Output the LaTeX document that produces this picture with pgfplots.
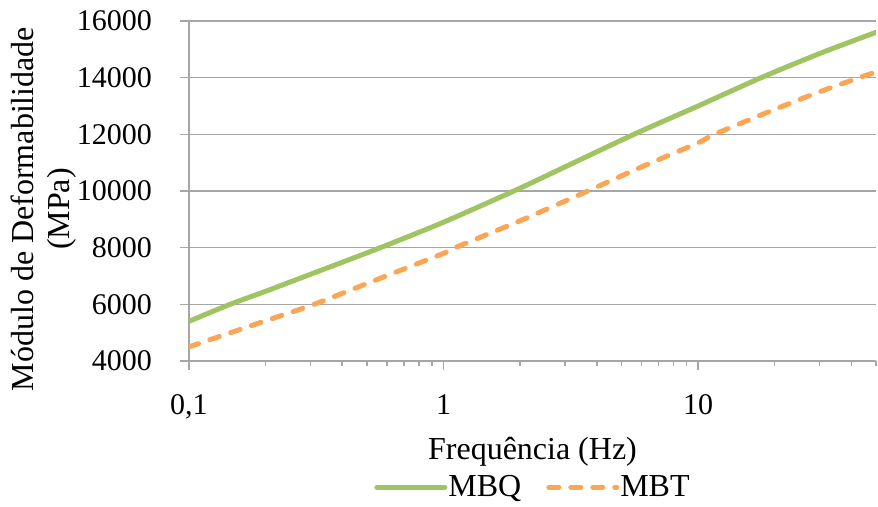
\documentclass[border=0pt]{standalone}
\usepackage{pgfplots}
\pgfplotsset{compat=1.18}
\usepackage{fontspec}
\setmainfont{Liberation Serif}

\definecolor{mbq}{RGB}{160,196,98}
\definecolor{mbt}{RGB}{250,166,84}
\definecolor{gridgray}{RGB}{166,166,166}

\newcommand{\tickfont}{\fontsize{30bp}{36bp}\selectfont}
\newcommand{\labelfont}{\fontsize{32bp}{36bp}\selectfont}

\begin{document}
\begin{tikzpicture}
\useasboundingbox (-189bp,-146bp) rectangle (689bp,361bp);
\begin{axis}[
  at={(0,0)}, anchor=south west,
  scale only axis,
  width=687bp, height=340bp,
  xmode=log,
  xmin=0.1, xmax=50,
  ymin=4000, ymax=16000,
  axis x line*=bottom,
  axis y line*=left,
  axis line style={gridgray, line width=1.5bp},
  xtick={0.1,1,10},
  xticklabels={{0,1},1,10},
  minor xtick={0.2,0.3,0.4,0.5,0.6,0.7,0.8,0.9,2,3,4,5,6,7,8,9,20,30,40,50},
  ytick={4000,6000,8000,10000,12000,14000,16000},
  yticklabels={4000,6000,8000,10000,12000,14000,16000},
  scaled y ticks=false,
  minor ytick={},
  tick align=outside,
  major tick length=9bp,
  minor tick length=5bp,
  tick style={gridgray, line width=1.5bp},
  ymajorgrids,
  major grid style={gridgray, line width=1.5bp},
  /pgf/number format/assume math mode=true,
  /pgf/number format/1000 sep={},
  tick label style={font=\tickfont, text=black},
  yticklabel style={inner sep=0pt, xshift=-28bp},
  xticklabel style={inner sep=0pt, anchor=base, yshift=-44bp},
  xlabel={Frequência (Hz)},
  xlabel style={font=\labelfont, at={(axis description cs:0.5,-0.291)}, anchor=base, inner sep=0pt},
  ylabel={Módulo de Deformabilidade\\(MPa)},
  ylabel style={font=\labelfont, align=center, at={(axis description cs:-0.211,0.447)}, anchor=center, inner sep=0pt},
  legend style={draw=none, fill=none, font=\labelfont,
    at={(axis description cs:0.5,-0.371)}, anchor=center,
    legend columns=2,
    /tikz/every even column/.append style={column sep=24bp},
    nodes={inner sep=1bp}},
  legend cell align=left,
  legend image code/.code={\draw[#1] (0bp,0bp) -- (68bp,0bp);},
]
\addplot[mbq, line width=5bp, line cap=round, smooth] coordinates {
  (0.1,5400) (0.145,6000) (0.2,6460) (0.3,7060) (0.565,8000)
  (1,8900) (1.89,10000) (3,10850) (5.6,12000) (10,13000)
  (17.7,14000) (30,14850) (50,15600)
};
\addlegendentry{MBQ}
\addplot[mbt, line width=5bp, line cap=round, dash pattern=on 10bp off 12bp, smooth] coordinates {
  (0.1,4500) (0.2,5420) (0.31,6000) (0.55,6880) (1,7800)
  (1.11,8000) (2,8950) (3.69,10000) (6,10850) (10,11700)
  (11.6,12000) (20,12880) (30,13500) (43,14000) (50,14200)
};
\addlegendentry{MBT}
\end{axis}
\end{tikzpicture}
\end{document}
